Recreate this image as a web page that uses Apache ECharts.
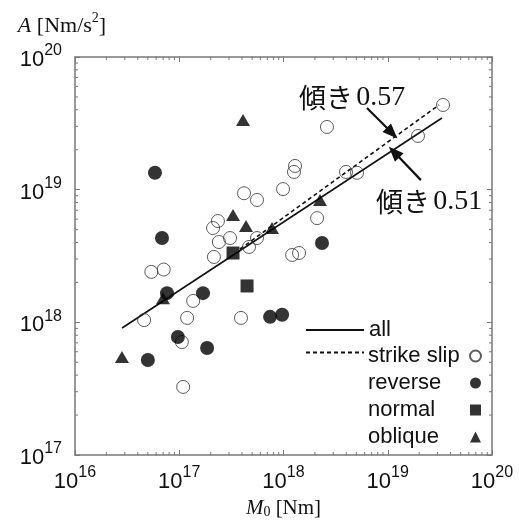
<!DOCTYPE html>
<html><head><meta charset="utf-8">
<script src="https://cdn.jsdelivr.net/npm/echarts@6/dist/echarts.min.js"></script>
<style>html,body{margin:0;padding:0;background:#fff}#c{width:519px;height:525px}</style>
</head><body><div id="c"></div>
<script>
// ---- data (M0 [Nm], A [Nm/s^2]) ----
const strikeSlip = [[5.4e16,2.4e18],[7.1e16,2.5e18],[4.6e16,1.04e18],[1.36e17,1.45e18],[1.19e17,1.08e18],[1.06e17,7.1e17],[1.09e17,3.26e17],[2.15e17,3.11e18],[2.35e17,5.8e18],[2.11e17,5.14e18],[2.4e17,4.03e18],[3.07e17,4.32e18],[4.18e17,9.4e18],[5.57e17,8.36e18],[5.57e17,4.32e18],[4.67e17,3.7e18],[3.91e17,1.08e18],[9.9e17,1.01e19],[1.29e18,1.51e19],[1.26e18,1.36e19],[2.61e18,2.97e19],[2.1e18,6.1e18],[1.21e18,3.22e18],[1.41e18,3.33e18],[3.98e18,1.36e19],[5.07e18,1.34e19],[1.95e19,2.54e19],[3.39e19,4.35e19]];
const reverse = [[5.85e16,1.34e19],[6.83e16,4.32e18],[7.63e16,1.66e18],[1.69e17,1.66e18],[9.7e16,7.76e17],[1.85e17,6.4e17],[5.0e16,5.2e17],[7.43e17,1.1e18],[9.7e17,1.14e18],[2.34e18,3.96e18]];
const normal = [[3.28e17,3.33e18],[4.47e17,1.88e18]];
const oblique = [[4.09e17,3.35e19],[3.28e17,6.44e18],[4.37e17,5.32e18],[7.76e17,5.14e18],[2.24e18,8.36e18],[6.98e16,1.52e18],[2.82e16,5.48e17]];
const allFit = [[2.83e16,9.06e17],[3.31e19,3.47e19]];
const strikeSlipFit = [[3.83e17,3.57e18],[3.10e19,4.35e19]];
const arrow057 = [[6.32e18,4.13e19],[1.10e19,2.67e19]];
const arrow051 = [[2.08e19,1.18e19],[1.15e19,1.92e19]];
const slopeLabels = ['0.57','0.51'];
const xMinorTicks = [2e16,3e16,4e16,5e16,6e16,7e16,8e16,9e16,2e17,3e17,4e17,5e17,6e17,7e17,8e17,9e17,2e18,3e18,4e18,5e18,6e18,7e18,8e18,9e18,2e19,3e19,4e19,5e19,6e19,7e19,8e19,9e19];
const yMinorTicks = [2e17,3e17,4e17,5e17,6e17,7e17,8e17,9e17,2e18,3e18,4e18,5e18,6e18,7e18,8e18,9e18,2e19,3e19,4e19,5e19,6e19,7e19,8e19,9e19];

const SANS = 'Liberation Sans, Arial, sans-serif';
const SERIF = 'Liberation Serif, Times New Roman, serif';
const AX = '#777';
const INK = '#111';

const tickRich = {
  b: {fontSize: 22, fontFamily: SANS, color: INK, lineHeight: 28, verticalAlign: 'bottom'},
  s: {fontSize: 16, fontFamily: SANS, color: INK, lineHeight: 14, verticalAlign: 'top'}
};
const powLabel = v => '{b|10}{s|' + Math.round(Math.log10(v)) + '}';

const chart = echarts.init(document.getElementById('c'), null, {renderer: 'canvas'});

function baseAxis(extra) {
  return Object.assign({
    type: 'log', logBase: 10,
    axisLine: {show: true, lineStyle: {color: AX, width: 1.5}},
    axisTick: {show: true, inside: true, length: 5, lineStyle: {color: AX, width: 1}},
    splitLine: {show: false},
    minorTick: {show: false}
  }, extra);
}

function minorTickSeries(data, isX) {
  return {
    type: 'custom', silent: true, z: 1, xAxisIndex: 0, yAxisIndex: 0,
    data: data.map(v => isX ? [v, 1e18] : [1e17, v]),
    renderItem: function (params, api) {
      const cs = params.coordSys;
      const len = 3;
      const st = {stroke: AX, lineWidth: 1};
      if (isX) {
        const x = api.coord([api.value(0), 1e18])[0];
        return {type: 'group', children: [
          {type: 'line', shape: {x1: x, y1: cs.y + cs.height, x2: x, y2: cs.y + cs.height - len}, style: st},
          {type: 'line', shape: {x1: x, y1: cs.y, x2: x, y2: cs.y + len}, style: st}
        ]};
      }
      const y = api.coord([1e17, api.value(1)])[1];
      return {type: 'group', children: [
        {type: 'line', shape: {x1: cs.x, y1: y, x2: cs.x + len, y2: y}, style: st},
        {type: 'line', shape: {x1: cs.x + cs.width, y1: y, x2: cs.x + cs.width - len, y2: y}, style: st}
      ]};
    }
  };
}

const annotRich = {
  c: {fontFamily: 'Noto Sans CJK JP', fontSize: 27, fill: INK},
  n: {fontFamily: SERIF, fontSize: 28, fill: INK}
};

const option = {
  backgroundColor: '#fff',
  animation: false,
  grid: {left: 75, right: 27, top: 57, bottom: 70, containLabel: false},
  xAxis: [
    baseAxis({
      position: 'bottom', min: 1e16, max: 1e20,
      axisLabel: {show: true, margin: 10, formatter: powLabel, rich: tickRich, showMinLabel: true, showMaxLabel: true},
      name: '{i|M}{sub|0}{r| [Nm]}', nameLocation: 'middle', nameGap: 38,
      nameTextStyle: {rich: {
        i: {fontFamily: SERIF, fontStyle: 'italic', fontSize: 21, color: INK, lineHeight: 24, verticalAlign: 'bottom'},
        sub: {fontFamily: SERIF, fontSize: 14, color: INK, lineHeight: 18, verticalAlign: 'bottom'},
        r: {fontFamily: SERIF, fontSize: 21, color: INK, lineHeight: 24, verticalAlign: 'bottom'}
      }}
    }),
    baseAxis({position: 'top', min: 1e16, max: 1e20, axisLabel: {show: false}})
  ],
  yAxis: [
    baseAxis({
      position: 'left', min: 1e17, max: 1e20,
      axisLabel: {show: true, margin: 13, formatter: powLabel, rich: tickRich, showMinLabel: true, showMaxLabel: true},
      name: '{i|A}{r| [Nm/s}{sup|2}{r|]}', nameLocation: 'end', nameGap: 20,
      nameTextStyle: {align: 'center', padding: [0, 26, 0, 0], rich: {
        i: {fontFamily: SERIF, fontStyle: 'italic', fontSize: 22, color: INK, lineHeight: 26, verticalAlign: 'bottom'},
        r: {fontFamily: SERIF, fontSize: 22, color: INK, lineHeight: 26, verticalAlign: 'bottom'},
        sup: {fontFamily: SERIF, fontSize: 14, color: INK, lineHeight: 14, verticalAlign: 'top'}
      }}
    }),
    baseAxis({position: 'right', min: 1e17, max: 1e20, axisLabel: {show: false}})
  ],
  legend: [
    {
      data: ['all', 'strike slip fit'],
      orient: 'vertical', left: 305, top: 319, padding: 0,
      itemWidth: 58, itemHeight: 14, itemGap: 6,
      selectedMode: false,
      itemStyle: {opacity: 0},
      formatter: n => n === 'all' ? 'all' : '',
      textStyle: {fontFamily: SANS, fontSize: 22, color: INK, lineHeight: 20}
    },
    {
      data: ['strike slip', 'reverse', 'normal', 'oblique'],
      orient: 'vertical', left: 368, top: 345, padding: 0, align: 'right',
      itemWidth: 11, itemHeight: 11, itemGap: 5,
      selectedMode: false,
      formatter: n => '{t|' + n + '}',
      textStyle: {fontFamily: SANS, fontSize: 22, color: INK, rich: {
        t: {fontFamily: SANS, fontSize: 22, color: INK, width: 97, align: 'left', lineHeight: 20}
      }}
    }
  ],
  graphic: [
    {type: 'text', left: 299, top: 84, z: 100, style: {
      text: '{c|傾き} {n|' + slopeLabels[0] + '}', rich: annotRich
    }},
    {type: 'text', left: 376, top: 188, z: 100, style: {
      text: '{c|傾き} {n|' + slopeLabels[1] + '}', rich: annotRich
    }}
  ],
  series: [
    minorTickSeries(xMinorTicks, true),
    minorTickSeries(yMinorTicks, false),
    {name: 'all', type: 'line', data: allFit, symbol: 'none', z: 2,
     lineStyle: {color: INK, width: 1.6, type: 'solid'}, itemStyle: {color: INK}},
    {name: 'strike slip fit', type: 'line', data: strikeSlipFit, symbol: 'none', z: 2,
     lineStyle: {color: INK, width: 1.6, type: [4, 3]}, itemStyle: {color: INK}},
    {name: 'arrows', type: 'line', data: [], symbol: 'none', z: 4,
     markLine: {silent: true, symbol: ['none', 'triangle'], symbolSize: [12, 15], label: {show: false},
       lineStyle: {color: INK, width: 2.2, type: 'solid'}, itemStyle: {color: INK},
       data: [
         [{coord: arrow057[0]}, {coord: arrow057[1]}],
         [{coord: arrow051[0]}, {coord: arrow051[1]}]
       ]}},
    {name: 'strike slip', type: 'scatter', data: strikeSlip, symbol: 'circle', symbolSize: 13, z: 3,
     itemStyle: {color: 'rgba(255,255,255,0)', borderColor: '#333', borderWidth: 1}},
    {name: 'reverse', type: 'scatter', data: reverse, symbol: 'circle', symbolSize: 14, z: 3,
     itemStyle: {color: '#000'}},
    {name: 'normal', type: 'scatter', data: normal, symbol: 'rect', symbolSize: 13, z: 3,
     itemStyle: {color: '#000'}},
    {name: 'oblique', type: 'scatter', data: oblique, symbol: 'triangle', symbolSize: [14, 12], z: 3,
     itemStyle: {color: '#000'}}
  ]
};
chart.setOption(option);
</script></body></html>
